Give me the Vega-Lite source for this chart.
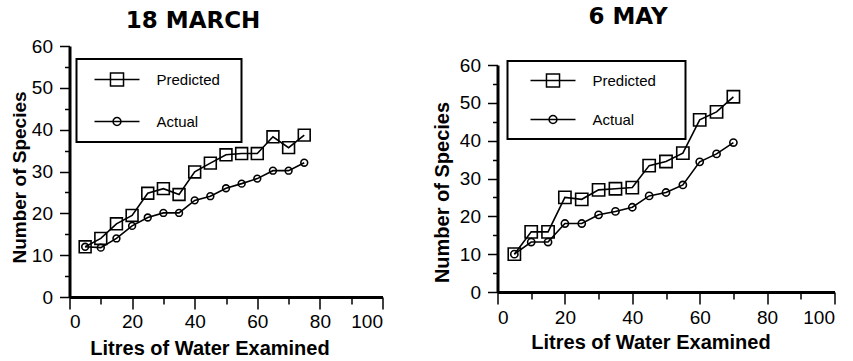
{
  "$schema": "https://vega.github.io/schema/vega-lite/v6.json",
  "padding": {"left": 9.5, "top": 6, "right": 0, "bottom": 0},
  "spacing": 49,
  "columns": 2,
  "background": "white",
  "config": {
    "view": {"stroke": null},
    "axis": {
      "grid": false,
      "domainColor": "black",
      "domainWidth": 3,
      "tickColor": "black",
      "tickWidth": 1.5,
      "labelFont": "Liberation Sans",
      "labelFontSize": 19,
      "labelColor": "black",
      "titleFont": "Liberation Sans",
      "titleFontWeight": "bold",
      "titleColor": "black"
    },
    "legend": {
      "labelFont": "Liberation Sans",
      "labelFontSize": 15,
      "labelColor": "black",
      "symbolStrokeColor": "black",
      "symbolStrokeWidth": 1.5,
      "symbolSize": 225,
      "strokeColor": "black",
      "orient": "none"
    }
  },
  "resolve": {"scale": {"color": "independent"}, "legend": {"color": "independent"}},
  "concat": [
    {
      "width": 313,
      "height": 251,
      "title": {"text": "18 MARCH", "font": "DejaVu Sans", "fontSize": 23, "fontWeight": "bold", "color": "black", "dx": -33, "offset": 4},
      "data": {"values": [
        {"litres": 5, "series": "Predicted", "species": 12},
        {"litres": 10, "series": "Predicted", "species": 14},
        {"litres": 15, "series": "Predicted", "species": 17.5},
        {"litres": 20, "series": "Predicted", "species": 19.5},
        {"litres": 25, "series": "Predicted", "species": 24.8},
        {"litres": 30, "series": "Predicted", "species": 25.9},
        {"litres": 35, "series": "Predicted", "species": 24.5},
        {"litres": 40, "series": "Predicted", "species": 29.9},
        {"litres": 45, "series": "Predicted", "species": 32},
        {"litres": 50, "series": "Predicted", "species": 34},
        {"litres": 55, "series": "Predicted", "species": 34.3},
        {"litres": 60, "series": "Predicted", "species": 34.3},
        {"litres": 65, "series": "Predicted", "species": 38.3},
        {"litres": 70, "series": "Predicted", "species": 35.7},
        {"litres": 75, "series": "Predicted", "species": 38.7},
        {"litres": 5, "series": "Actual", "species": 12},
        {"litres": 10, "series": "Actual", "species": 11.8},
        {"litres": 15, "series": "Actual", "species": 14},
        {"litres": 20, "series": "Actual", "species": 17},
        {"litres": 25, "series": "Actual", "species": 19},
        {"litres": 30, "series": "Actual", "species": 20.1},
        {"litres": 35, "series": "Actual", "species": 20.1},
        {"litres": 40, "series": "Actual", "species": 23.1},
        {"litres": 45, "series": "Actual", "species": 24.1},
        {"litres": 50, "series": "Actual", "species": 26},
        {"litres": 55, "series": "Actual", "species": 27.1},
        {"litres": 60, "series": "Actual", "species": 28.3},
        {"litres": 65, "series": "Actual", "species": 30.2},
        {"litres": 70, "series": "Actual", "species": 30.2},
        {"litres": 75, "series": "Actual", "species": 32.1}
      ]},
      "encoding": {
        "x": {"field": "litres", "type": "quantitative", "scale": {"domain": [0, 100], "nice": false},
          "axis": {"title": "Litres of Water Examined", "titleFontSize": 20, "titleX": 140, "titlePadding": 7,
            "values": [0, 10, 20, 30, 40, 50, 60, 70, 80, 90, 100],
            "labelExpr": "datum.value % 20 === 0 ? datum.label : ''",
            "tickSize": {"condition": {"test": "datum.value % 20 === 0", "value": 12}, "value": 7},
            "labelPadding": 3}},
        "y": {"field": "species", "type": "quantitative", "scale": {"domain": [0, 60], "nice": false},
          "axis": {"title": "Number of Species", "titleFontSize": 19, "titleY": 131, "titlePadding": 2,
            "values": [0, 5, 10, 15, 20, 25, 30, 35, 40, 45, 50, 55, 60],
            "labelExpr": "datum.value % 10 === 0 ? datum.label : ''",
            "tickSize": {"condition": {"test": "datum.value % 10 === 0", "value": 10}, "value": 5},
            "labelPadding": 7}}
      },
      "layer": [
        {"mark": {"type": "line", "strokeWidth": 1.6},
          "encoding": {
            "color": {"field": "series", "type": "nominal",
              "scale": {"domain": ["Predicted", "Actual"], "range": ["black", "black"]},
              "legend": {"title": null, "legendX": 7, "legendY": 13, "padding": 12, "symbolOffset": 20, "labelOffset": 31, "rowPadding": 23,
                "encode": {
                  "legend": {"update": {"strokeWidth": {"value": 2}}},
                  "symbols": {"update": {"shape": {"signal": "datum.value === 'Predicted' ? 'M-3,0H3M-0.87,-0.87H0.87V0.87H-0.87ZM14.6,0' : 'M-3,0H3M-0.53,0A0.53,0.53,0,1,1,0.53,0A0.53,0.53,0,1,1,-0.53,0ZM14.6,0'"}, "fill": {"value": "transparent"}, "strokeWidth": {"value": 1.5}}}
                }}}
          }},
        {"transform": [{"filter": "datum.series === 'Predicted'"}],
          "mark": {"type": "point", "shape": "square", "filled": false, "color": "black", "strokeWidth": 1.6, "opacity": 1, "size": 140}},
        {"transform": [{"filter": "datum.series === 'Actual'"}],
          "mark": {"type": "point", "shape": "circle", "filled": false, "color": "black", "strokeWidth": 1.6, "opacity": 1, "size": 46}}
      ]
    },
    {
      "spacing": 0,
      "vconcat": [
        {
          "width": 337,
          "height": 10,
          "title": {"text": "6 MAY", "font": "DejaVu Sans", "fontSize": 23, "fontWeight": "bold", "color": "black", "dx": -38, "offset": 17},
          "data": {"values": []},
          "mark": {"type": "text", "text": ""}
        },
        {
          "width": 337,
          "height": 227,
          "data": {"values": [
            {"litres": 5, "series": "Predicted", "species": 10},
            {"litres": 10, "series": "Predicted", "species": 15.9},
            {"litres": 15, "series": "Predicted", "species": 15.9},
            {"litres": 20, "series": "Predicted", "species": 25},
            {"litres": 25, "series": "Predicted", "species": 24.5},
            {"litres": 30, "series": "Predicted", "species": 27},
            {"litres": 35, "series": "Predicted", "species": 27.3},
            {"litres": 40, "series": "Predicted", "species": 27.6},
            {"litres": 45, "series": "Predicted", "species": 33.4},
            {"litres": 50, "series": "Predicted", "species": 34.5},
            {"litres": 55, "series": "Predicted", "species": 36.7},
            {"litres": 60, "series": "Predicted", "species": 45.5},
            {"litres": 65, "series": "Predicted", "species": 47.6},
            {"litres": 70, "series": "Predicted", "species": 51.6},
            {"litres": 5, "series": "Actual", "species": 10},
            {"litres": 10, "series": "Actual", "species": 13.2},
            {"litres": 15, "series": "Actual", "species": 13.2},
            {"litres": 20, "series": "Actual", "species": 18.1},
            {"litres": 25, "series": "Actual", "species": 18.1},
            {"litres": 30, "series": "Actual", "species": 20.4},
            {"litres": 35, "series": "Actual", "species": 21.3},
            {"litres": 40, "series": "Actual", "species": 22.4},
            {"litres": 45, "series": "Actual", "species": 25.4},
            {"litres": 50, "series": "Actual", "species": 26.3},
            {"litres": 55, "series": "Actual", "species": 28.3},
            {"litres": 60, "series": "Actual", "species": 34.4},
            {"litres": 65, "series": "Actual", "species": 36.5},
            {"litres": 70, "series": "Actual", "species": 39.5}
          ]},
          "encoding": {
            "x": {"field": "litres", "type": "quantitative", "scale": {"domain": [0, 100], "nice": false},
              "axis": {"title": "Litres of Water Examined", "titleFontSize": 20, "titleX": 153, "titlePadding": 5,
                "values": [0, 10, 20, 30, 40, 50, 60, 70, 80, 90, 100],
                "labelExpr": "datum.value % 20 === 0 ? datum.label : ''",
                "tickSize": {"condition": {"test": "datum.value % 20 === 0", "value": 12}, "value": 7},
                "labelPadding": 4}},
            "y": {"field": "species", "type": "quantitative", "scale": {"domain": [0, 60], "nice": false},
              "axis": {"title": "Number of Species", "titleFontSize": 20, "titleY": 127, "titlePadding": 6.5,
                "values": [0, 5, 10, 15, 20, 25, 30, 35, 40, 45, 50, 55, 60],
                "labelExpr": "datum.value % 10 === 0 ? datum.label : ''",
                "tickSize": {"condition": {"test": "datum.value % 10 === 0", "value": 10}, "value": 5},
                "labelPadding": 7}}
          },
          "layer": [
            {"mark": {"type": "line", "strokeWidth": 1.6},
              "encoding": {
                "color": {"field": "series", "type": "nominal",
                  "scale": {"domain": ["Predicted", "Actual"], "range": ["black", "black"]},
                  "legend": {"title": null, "legendX": 10, "legendY": 15, "padding": 11, "symbolOffset": 26, "labelOffset": 31, "rowPadding": 20,
                    "encode": {
                      "legend": {"update": {"strokeWidth": {"value": 2}}},
                      "symbols": {"update": {"shape": {"signal": "datum.value === 'Predicted' ? 'M-3,0H3M-0.87,-0.87H0.87V0.87H-0.87ZM15.7,0' : 'M-3,0H3M-0.53,0A0.53,0.53,0,1,1,0.53,0A0.53,0.53,0,1,1,-0.53,0ZM15.7,0'"}, "fill": {"value": "transparent"}, "strokeWidth": {"value": 1.5}}}
                    }}}
              }},
            {"transform": [{"filter": "datum.series === 'Predicted'"}],
              "mark": {"type": "point", "shape": "square", "filled": false, "color": "black", "strokeWidth": 1.6, "opacity": 1, "size": 150}},
            {"transform": [{"filter": "datum.series === 'Actual'"}],
              "mark": {"type": "point", "shape": "circle", "filled": false, "color": "black", "strokeWidth": 1.6, "opacity": 1, "size": 52}}
          ]
        }
      ]
    }
  ]
}
